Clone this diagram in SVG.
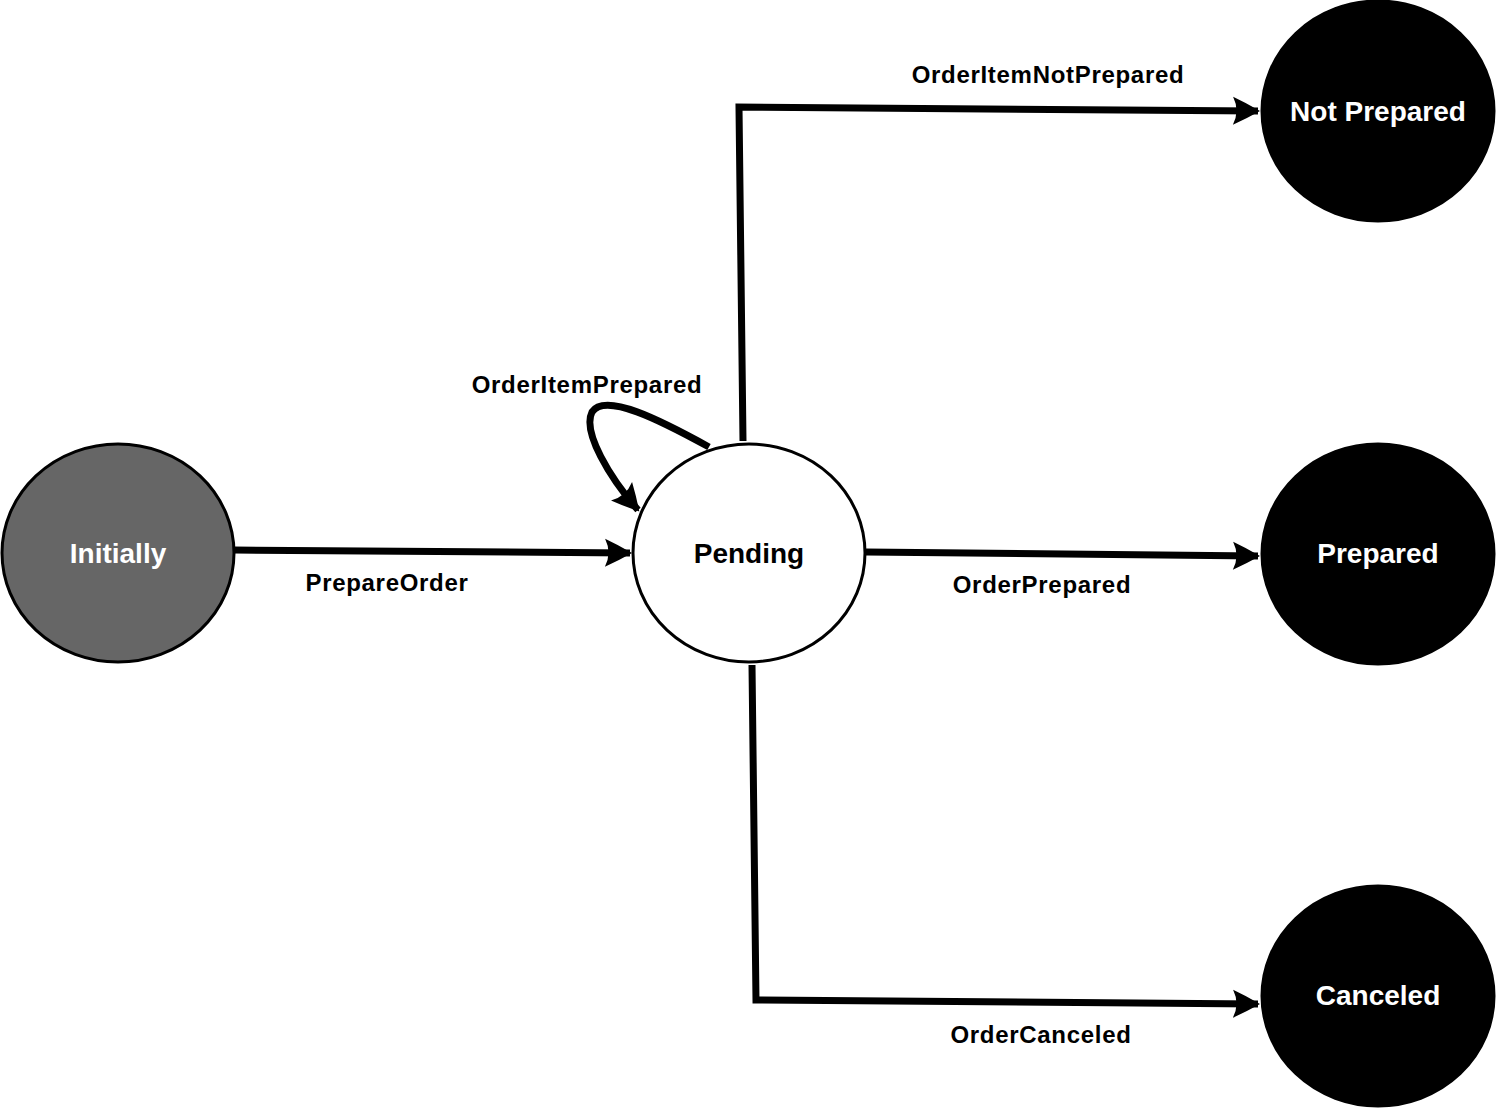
<svg xmlns="http://www.w3.org/2000/svg" width="1496" height="1108" viewBox="0 0 1496 1108">
<style>
.node{stroke:#000;stroke-width:3}
.nl{font-family:"Liberation Sans",Arial,sans-serif;font-weight:bold;font-size:28px;fill:#fff;text-anchor:middle;dominant-baseline:central}
.el{font-family:"Liberation Sans",Arial,sans-serif;font-weight:bold;font-size:24px;fill:#000;text-anchor:middle;dominant-baseline:central;letter-spacing:0.7px}
.edge{fill:none;stroke:#000;stroke-width:7;stroke-linejoin:miter}
</style>
<defs>
<marker id="ah" markerUnits="userSpaceOnUse" markerWidth="44" markerHeight="44" viewBox="-32 -22 44 44" refX="2" refY="0" orient="auto">
<path d="M4,0 Q-10,-8 -23,-14 Q-16,0 -23,14 Q-10,8 4,0Z" fill="#000"/>
</marker>
</defs>
<rect width="1496" height="1108" fill="#fff"/>
<g id="edges">
<path class="edge" d="M234,550 L630,553" marker-end="url(#ah)"/>
<path class="edge" d="M866,552 L1258,556" marker-end="url(#ah)"/>
<path class="edge" d="M743,441 L739,107 L1258,111" marker-end="url(#ah)"/>
<path class="edge" d="M752,665 L756,1000 L1258,1004" marker-end="url(#ah)"/>
<path class="edge" d="M709,447 C660,420 605,392 592,412 C582,432 610,478 638,510" marker-end="url(#ah)"/>
<text class="el" x="387" y="582">PrepareOrder</text>
<text class="el" x="1042" y="584">OrderPrepared</text>
<text class="el" x="1048" y="74">OrderItemNotPrepared</text>
<text class="el" x="1041" y="1034">OrderCanceled</text>
<text class="el" x="587" y="384">OrderItemPrepared</text>
</g>
<g id="initially">
<ellipse class="node" cx="118" cy="553" rx="116" ry="109" fill="#666"/>
<text class="nl" x="118" y="553">Initially</text>
</g>
<g id="pending">
<ellipse class="node" cx="749" cy="553" rx="116" ry="109" fill="#fff"/>
<text class="nl" x="749" y="553" style="fill:#000">Pending</text>
</g>
<g id="not-prepared">
<ellipse class="node" cx="1378" cy="111" rx="116" ry="110" fill="#000"/>
<text class="nl" x="1378" y="111">Not Prepared</text>
</g>
<g id="prepared">
<ellipse class="node" cx="1378" cy="554" rx="116" ry="110" fill="#000"/>
<text class="nl" x="1378" y="553">Prepared</text>
</g>
<g id="canceled">
<ellipse class="node" cx="1378" cy="996" rx="116" ry="110" fill="#000"/>
<text class="nl" x="1378" y="995">Canceled</text>
</g>
</svg>
